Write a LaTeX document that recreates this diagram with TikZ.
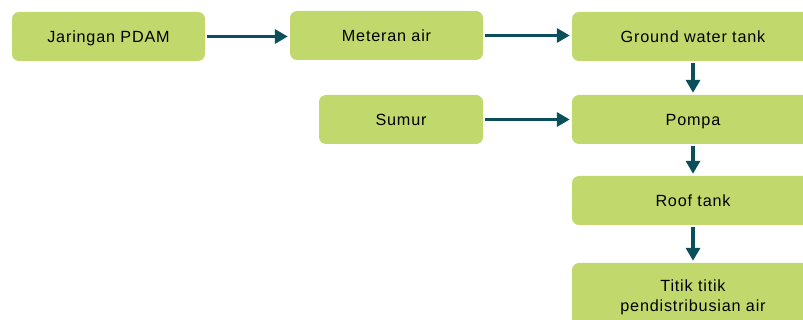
\documentclass[tikz,border=0pt]{standalone}
\usepackage{fontspec}
\setmainfont{Liberation Sans}
\usetikzlibrary{arrows.meta}
\definecolor{boxgreen}{HTML}{C1D96C}
\definecolor{flowteal}{HTML}{0B4F5A}
\newfontfamily\boxfont[LetterSpace=5]{Liberation Sans}
\tikzset{
  stage/.style={rectangle, rounded corners=7pt, fill=boxgreen, draw=none,
    minimum height=49pt, inner sep=0pt, align=center,
    text height=11.6pt, text depth=0pt,
    font=\boxfont\fontsize{16.2pt}{20pt}\selectfont, text=black},
  flow/.style={draw=flowteal, line width=3.8pt,
    -{Triangle[length=13pt,width=14pt]}, shorten <=2pt, shorten >=2pt}
}
\begin{document}
\begin{tikzpicture}[x=1pt,y=-1pt]
  \useasboundingbox (0,0) rectangle (803,320);
  % supply sources
  \node[stage, minimum width=193pt] (pdam)  at (108.5,36.5) {Jaringan PDAM};
  \node[stage, minimum width=193pt] (meter) at (386.5,35.5) {Meteran air};
  \node[stage, minimum width=164pt] (sumur) at (401,119.5) {Sumur};
  % storage and distribution column
  \node[stage, minimum width=242pt] (gwt)   at (693,36.5)  {Ground water tank};
  \node[stage, minimum width=242pt] (pompa) at (693,119.5) {Pompa};
  \node[stage, minimum width=242pt] (roof)  at (693,200.5) {Roof tank};
  \node[stage, minimum width=242pt, minimum height=68pt,
        text height=, text depth=] (titik) at (693,297)
    {Titik titik\\pendistribusian air};
  % flow connectors
  \draw[flow] (pdam.east) -- (pdam.east -| meter.west);
  \draw[flow] (meter.east) -- (meter.east -| gwt.west);
  \draw[flow] (sumur.east) -- (sumur.east -| pompa.west);
  \draw[flow] (gwt.south) -- (pompa.north);
  \draw[flow] (pompa.south) -- (roof.north);
  \draw[flow] (roof.south) -- (titik.north);
\end{tikzpicture}
\end{document}
